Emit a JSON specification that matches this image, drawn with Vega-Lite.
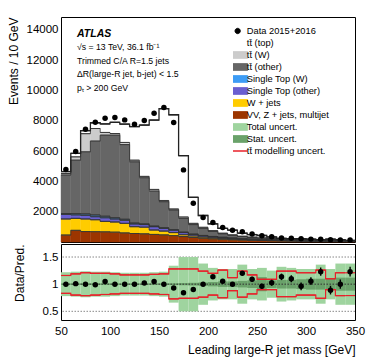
{
"$schema":"https://vega.github.io/schema/vega-lite/v6.json",
"padding":{"left":6,"top":15,"right":6,"bottom":4},
"spacing":2,
"bounds":"flush",
"config":{
 "font":"Liberation Sans",
 "view":{"stroke":"black","strokeWidth":1},
 "axis":{"labelFont":"Liberation Sans","labelFontSize":11.5,"labelColor":"black","titleFont":"Liberation Sans","titleFontSize":12,"titleFontWeight":"normal","titleColor":"black","tickColor":"black","tickWidth":0.8,"domain":false,"grid":false,"tickSize":0,"labelOverlap":false,"labelFlush":false},
 "concat":{"spacing":2}
},
"datasets":{
 "stack":[
  {"lo":50,"hi":60,"vv":460,"wj":1060,"sto":300,"stw":60,"tto":2540,"ttw":100,"ttt":130},
  {"lo":60,"hi":70,"vv":770,"wj":790,"sto":230,"stw":80,"tto":3530,"ttw":220,"ttt":230},
  {"lo":70,"hi":80,"vv":690,"wj":830,"sto":240,"stw":90,"tto":4100,"ttw":1200,"ttt":200},
  {"lo":80,"hi":90,"vv":680,"wj":790,"sto":200,"stw":110,"tto":4880,"ttw":830,"ttt":380},
  {"lo":90,"hi":100,"vv":670,"wj":690,"sto":240,"stw":100,"tto":5350,"ttw":180,"ttt":560},
  {"lo":100,"hi":110,"vv":650,"wj":670,"sto":200,"stw":80,"tto":5450,"ttw":110,"ttt":740},
  {"lo":110,"hi":120,"vv":600,"wj":630,"sto":200,"stw":70,"tto":4930,"ttw":140,"ttt":1210},
  {"lo":120,"hi":130,"vv":560,"wj":450,"sto":180,"stw":60,"tto":4040,"ttw":110,"ttt":2220},
  {"lo":130,"hi":140,"vv":540,"wj":440,"sto":170,"stw":50,"tto":3040,"ttw":90,"ttt":3390},
  {"lo":140,"hi":150,"vv":500,"wj":290,"sto":220,"stw":40,"tto":2310,"ttw":110,"ttt":4580},
  {"lo":150,"hi":160,"vv":470,"wj":250,"sto":180,"stw":40,"tto":1720,"ttw":80,"ttt":6060},
  {"lo":160,"hi":170,"vv":420,"wj":200,"sto":160,"stw":30,"tto":1300,"ttw":70,"ttt":6220},
  {"lo":170,"hi":180,"vv":360,"wj":120,"sto":140,"stw":30,"tto":910,"ttw":90,"ttt":4050},
  {"lo":180,"hi":190,"vv":300,"wj":100,"sto":100,"stw":20,"tto":630,"ttw":80,"ttt":1720},
  {"lo":190,"hi":200,"vv":250,"wj":80,"sto":80,"stw":20,"tto":470,"ttw":70,"ttt":780},
  {"lo":200,"hi":210,"vv":210,"wj":70,"sto":70,"stw":15,"tto":335,"ttw":50,"ttt":450},
  {"lo":210,"hi":220,"vv":180,"wj":60,"sto":60,"stw":10,"tto":230,"ttw":40,"ttt":320},
  {"lo":220,"hi":230,"vv":150,"wj":50,"sto":50,"stw":10,"tto":180,"ttw":30,"ttt":310},
  {"lo":230,"hi":240,"vv":130,"wj":40,"sto":40,"stw":10,"tto":140,"ttw":20,"ttt":200},
  {"lo":240,"hi":250,"vv":110,"wj":35,"sto":35,"stw":10,"tto":110,"ttw":20,"ttt":170},
  {"lo":250,"hi":260,"vv":95,"wj":30,"sto":30,"stw":5,"tto":90,"ttw":15,"ttt":165},
  {"lo":260,"hi":270,"vv":80,"wj":25,"sto":25,"stw":5,"tto":75,"ttw":15,"ttt":105},
  {"lo":270,"hi":280,"vv":70,"wj":20,"sto":20,"stw":5,"tto":55,"ttw":10,"ttt":60},
  {"lo":280,"hi":290,"vv":60,"wj":20,"sto":15,"stw":5,"tto":50,"ttw":8,"ttt":62},
  {"lo":290,"hi":300,"vv":55,"wj":15,"sto":15,"stw":5,"tto":50,"ttw":8,"ttt":67},
  {"lo":300,"hi":310,"vv":50,"wj":12,"sto":13,"stw":3,"tto":47,"ttw":7,"ttt":58},
  {"lo":310,"hi":320,"vv":45,"wj":10,"sto":10,"stw":3,"tto":37,"ttw":5,"ttt":40},
  {"lo":320,"hi":330,"vv":40,"wj":10,"sto":8,"stw":2,"tto":60,"ttw":6,"ttt":64},
  {"lo":330,"hi":340,"vv":35,"wj":10,"sto":7,"stw":2,"tto":41,"ttw":5,"ttt":50},
  {"lo":340,"hi":350,"vv":30,"wj":10,"sto":7,"stw":2,"tto":26,"ttw":5,"ttt":35}
 ],
 "data":[
  {"mass":55,"events":4780},{"mass":65,"events":5970},{"mass":75,"events":7440},{"mass":85,"events":7900},{"mass":95,"events":8170},
  {"mass":105,"events":8210},{"mass":115,"events":8060},{"mass":125,"events":7770},{"mass":135,"events":8020},{"mass":145,"events":8500},
  {"mass":155,"events":8870},{"mass":165,"events":7880},{"mass":175,"events":4760},{"mass":185,"events":2550},{"mass":195,"events":1620},
  {"mass":205,"events":1280},{"mass":215,"events":960},{"mass":225,"events":780},{"mass":235,"events":670},{"mass":245,"events":530},
  {"mass":255,"events":410},{"mass":265,"events":340},{"mass":275,"events":270},{"mass":285,"events":240},{"mass":295,"events":210},
  {"mass":305,"events":190},{"mass":315,"events":180},{"mass":325,"events":150},{"mass":335,"events":140},{"mass":345,"events":130}
 ],
 "ratio":[
  {"lo":50,"hi":60,"mass":55,"r":1.00,"err":0.012,"tlo":0.78,"thi":1.22,"slo":0.985,"shi":1.015,"mlo":0.83,"mhi":1.16},
  {"lo":60,"hi":70,"mass":65,"r":1.01,"err":0.012,"tlo":0.77,"thi":1.23,"slo":0.985,"shi":1.015,"mlo":0.80,"mhi":1.19},
  {"lo":70,"hi":80,"mass":75,"r":1.00,"err":0.012,"tlo":0.76,"thi":1.24,"slo":0.985,"shi":1.015,"mlo":0.79,"mhi":1.21},
  {"lo":80,"hi":90,"mass":85,"r":0.99,"err":0.012,"tlo":0.77,"thi":1.23,"slo":0.985,"shi":1.015,"mlo":0.80,"mhi":1.20},
  {"lo":90,"hi":100,"mass":95,"r":1.05,"err":0.012,"tlo":0.77,"thi":1.23,"slo":0.985,"shi":1.015,"mlo":0.81,"mhi":1.20},
  {"lo":100,"hi":110,"mass":105,"r":1.00,"err":0.012,"tlo":0.78,"thi":1.22,"slo":0.985,"shi":1.015,"mlo":0.82,"mhi":1.19},
  {"lo":110,"hi":120,"mass":115,"r":1.00,"err":0.012,"tlo":0.79,"thi":1.21,"slo":0.985,"shi":1.015,"mlo":0.83,"mhi":1.17},
  {"lo":120,"hi":130,"mass":125,"r":1.00,"err":0.012,"tlo":0.79,"thi":1.21,"slo":0.985,"shi":1.015,"mlo":0.83,"mhi":1.17},
  {"lo":130,"hi":140,"mass":135,"r":1.02,"err":0.012,"tlo":0.79,"thi":1.21,"slo":0.985,"shi":1.015,"mlo":0.83,"mhi":1.17},
  {"lo":140,"hi":150,"mass":145,"r":1.05,"err":0.012,"tlo":0.78,"thi":1.22,"slo":0.985,"shi":1.015,"mlo":0.82,"mhi":1.18},
  {"lo":150,"hi":160,"mass":155,"r":1.00,"err":0.012,"tlo":0.77,"thi":1.23,"slo":0.985,"shi":1.015,"mlo":0.81,"mhi":1.19},
  {"lo":160,"hi":170,"mass":165,"r":0.93,"err":0.012,"tlo":0.66,"thi":1.34,"slo":0.985,"shi":1.015,"mlo":0.73,"mhi":1.28},
  {"lo":170,"hi":180,"mass":175,"r":0.84,"err":0.015,"tlo":0.50,"thi":1.50,"slo":0.98,"shi":1.02,"mlo":0.74,"mhi":1.28},
  {"lo":180,"hi":190,"mass":185,"r":0.90,"err":0.02,"tlo":0.50,"thi":1.50,"slo":0.975,"shi":1.025,"mlo":0.74,"mhi":1.28},
  {"lo":190,"hi":200,"mass":195,"r":1.00,"err":0.025,"tlo":0.62,"thi":1.38,"slo":0.97,"shi":1.03,"mlo":0.76,"mhi":1.24},
  {"lo":200,"hi":210,"mass":205,"r":1.135,"err":0.03,"tlo":0.70,"thi":1.30,"slo":0.96,"shi":1.04,"mlo":0.80,"mhi":1.20},
  {"lo":210,"hi":220,"mass":215,"r":1.055,"err":0.033,"tlo":0.72,"thi":1.28,"slo":0.95,"shi":1.05,"mlo":0.75,"mhi":1.26},
  {"lo":220,"hi":230,"mass":225,"r":1.00,"err":0.036,"tlo":0.72,"thi":1.28,"slo":0.95,"shi":1.05,"mlo":0.88,"mhi":1.12},
  {"lo":230,"hi":240,"mass":235,"r":1.20,"err":0.04,"tlo":0.64,"thi":1.36,"slo":0.94,"shi":1.06,"mlo":0.76,"mhi":1.24},
  {"lo":240,"hi":250,"mass":245,"r":1.09,"err":0.045,"tlo":0.72,"thi":1.28,"slo":0.93,"shi":1.07,"mlo":0.82,"mhi":1.17},
  {"lo":250,"hi":260,"mass":255,"r":0.96,"err":0.05,"tlo":0.70,"thi":1.30,"slo":0.87,"shi":1.13,"mlo":0.90,"mhi":1.09},
  {"lo":260,"hi":270,"mass":265,"r":1.025,"err":0.055,"tlo":0.75,"thi":1.25,"slo":0.93,"shi":1.07,"mlo":0.90,"mhi":1.09},
  {"lo":270,"hi":280,"mass":275,"r":1.135,"err":0.06,"tlo":0.68,"thi":1.32,"slo":0.92,"shi":1.08,"mlo":0.77,"mhi":1.24},
  {"lo":280,"hi":290,"mass":285,"r":1.10,"err":0.065,"tlo":0.70,"thi":1.30,"slo":0.92,"shi":1.08,"mlo":0.77,"mhi":1.24},
  {"lo":290,"hi":300,"mass":295,"r":0.96,"err":0.07,"tlo":0.72,"thi":1.28,"slo":0.91,"shi":1.09,"mlo":0.80,"mhi":1.21},
  {"lo":300,"hi":310,"mass":305,"r":1.055,"err":0.072,"tlo":0.72,"thi":1.28,"slo":0.90,"shi":1.10,"mlo":0.80,"mhi":1.21},
  {"lo":310,"hi":320,"mass":315,"r":1.23,"err":0.075,"tlo":0.64,"thi":1.36,"slo":0.90,"shi":1.10,"mlo":0.74,"mhi":1.26},
  {"lo":320,"hi":330,"mass":325,"r":0.89,"err":0.08,"tlo":0.72,"thi":1.28,"slo":0.90,"shi":1.10,"mlo":0.90,"mhi":1.10},
  {"lo":330,"hi":340,"mass":335,"r":1.00,"err":0.085,"tlo":0.62,"thi":1.38,"slo":0.88,"shi":1.12,"mlo":0.79,"mhi":1.21},
  {"lo":340,"hi":350,"mass":345,"r":1.23,"err":0.09,"tlo":0.62,"thi":1.38,"slo":0.88,"shi":1.12,"mlo":0.79,"mhi":1.21}
 ]
},
"vconcat":[
 {
  "width":294,"height":225,
  "title":{"text":"ATLAS","subtitle":["\u221as = 13 TeV, 36.1 fb\u207b\u00b9","Trimmed C/A  R=1.5 jets","\u0394R(large-R jet, b-jet) < 1.5","p\u209c > 200 GeV"],"anchor":"start","frame":"group","orient":"top","offset":-76,"dx":16,"font":"Liberation Sans","fontSize":10.5,"fontStyle":"italic","fontWeight":"bold","color":"black","subtitleFont":"Liberation Sans","subtitleFontSize":8.7,"subtitleColor":"black","subtitleLineHeight":13.5,"subtitlePadding":4},
  "resolve":{"axis":{"x":"independent","y":"independent"}},
  "layer":[
   {
    "data":{"name":"stack"},
    "transform":[{"fold":["vv","wj","sto","stw","tto","ttw","ttt"],"as":["process","events"]},{"stack":"events","groupby":["lo"],"as":["y0","y1"]}],
    "mark":{"type":"bar","strokeWidth":0.4},
    "encoding":{
     "x":{"field":"lo","type":"quantitative","scale":{"domain":[50,350],"nice":false,"zero":false},
      "axis":{"orient":"bottom","values":[50,60,70,80,90,100,110,120,130,140,150,160,170,180,190,200,210,220,230,240,250,260,270,280,290,300,310,320,330,340,350],"labels":false,"title":null,
       "encode":{"ticks":{"update":{"y2":{"signal":"datum.value % 50 === 0 ? -8 : -4"}}}}}},
     "x2":{"field":"hi"},
     "y":{"field":"y0","type":"quantitative","scale":{"domain":[0,14850],"nice":false},
      "axis":{"orient":"left","values":[0,500,1000,1500,2000,2500,3000,3500,4000,4500,5000,5500,6000,6500,7000,7500,8000,8500,9000,9500,10000,10500,11000,11500,12000,12500,13000,13500,14000,14500],"format":"d","labelPadding":3,
       "labelExpr":"datum.value % 2000 === 0 && datum.value > 0 ? datum.label : ''",
       "title":"Events / 10 GeV","titleAnchor":"end","titleX":-48,"titleBaseline":"middle",
       "encode":{"ticks":{"update":{"x2":{"signal":"datum.value % 2000 === 0 ? 8 : 4"}}}}}},
     "y2":{"field":"y1"},
     "color":{"field":"process","type":"nominal",
      "scale":{"domain":["data","ttt","ttw","tto","stw","sto","wj","vv","tot","stat","mod"],"range":["#000000","#ffffff","#cccccc","#666666","#3d9cf5","#6a5fd0","#ffcc00","#9c3500","#9fd49f","#6aa26a","#e8202a"]},
      "legend":{"orient":"none","legendX":172,"legendY":8,"title":null,"padding":0,"symbolSize":400,"clipHeight":11.95,"rowPadding":0,
       "labelFont":"Liberation Sans","labelFontSize":9.3,"labelColor":"black","labelOffset":4.5,"labelLimit":200,
       "labelExpr":"['Data 2015+2016','tt\u0304 (top)','tt\u0304 (W)','tt\u0304 (other)','Single Top (W)','Single Top (other)','W + jets','VV, Z + jets, multijet','Total uncert.','Stat. uncert.','tt\u0304 modelling uncert.'][indexof(['data','ttt','ttw','tto','stw','sto','wj','vv','tot','stat','mod'], datum.value)]",
       "encode":{"symbols":{"update":{
        "shape":{"signal":"datum.value === 'data' ? 'M0.27,0A0.27,0.27,0,1,1,-0.27,0A0.27,0.27,0,1,1,0.27,0Z' : datum.value === 'mod' ? 'M-1,0H1' : 'M-1,-0.34H1V0.34H-1Z'"},
        "stroke":{"signal":"datum.value === 'mod' ? '#e8202a' : (datum.value === 'data' || datum.value === 'tot' || datum.value === 'stat') ? 'transparent' : '#333333'"},
        "strokeWidth":{"signal":"datum.value === 'mod' ? 1.5 : 0.8"},
        "opacity":{"value":1}}}}}},
     "stroke":{"field":"process","type":"nominal",
      "scale":{"domain":["data","ttt","ttw","tto","stw","sto","wj","vv","tot","stat","mod"],"range":["#000000","#ffffff","#cccccc","#666666","#3d9cf5","#6a5fd0","#ffcc00","#9c3500","#9fd49f","#6aa26a","#e8202a"]},"legend":null}
    }
   },
   {
    "data":{"name":"stack"},
    "transform":[{"fold":["vv","wj","sto","stw","tto","ttw","ttt"],"as":["process","events"]},{"stack":"events","groupby":["lo"],"as":["y0","y1"]},{"filter":"datum.process !== 'ttt'"}],
    "mark":{"type":"rule","color":"#333333","strokeWidth":0.8},
    "encoding":{
     "x":{"field":"lo","type":"quantitative","scale":{"domain":[50,350],"nice":false,"zero":false},"axis":null},
     "x2":{"field":"hi"},
     "y":{"field":"y1","type":"quantitative","scale":{"domain":[0,14850],"nice":false},"axis":null}
    }
   },
   {
    "data":{"name":"stack"},
    "transform":[{"fold":["vv","wj","sto","stw","tto","ttw","ttt"],"as":["process","events"]},{"stack":"events","groupby":["lo"],"as":["y0","y1"]},{"filter":"datum.process !== 'ttt'"}],
    "mark":{"type":"line","color":"#333333","strokeWidth":0.8,"interpolate":"step-after"},
    "encoding":{
     "x":{"field":"lo","type":"quantitative","scale":{"domain":[50,350],"nice":false,"zero":false},"axis":null},
     "y":{"field":"y1","type":"quantitative","scale":{"domain":[0,14850],"nice":false},"axis":null},
     "detail":{"field":"process","type":"nominal"}
    }
   },
   {
    "data":{"name":"stack"},
    "transform":[{"fold":["vv","wj","sto","stw","tto","ttw","ttt"],"as":["process","events"]},{"stack":"events","groupby":["lo"],"as":["y0","y1"]},{"filter":"datum.process === 'ttt'"}],
    "mark":{"type":"rule","color":"#222222","strokeWidth":1.3},
    "encoding":{
     "x":{"field":"lo","type":"quantitative","scale":{"domain":[50,350],"nice":false,"zero":false},"axis":null},
     "x2":{"field":"hi"},
     "y":{"field":"y1","type":"quantitative","scale":{"domain":[0,14850],"nice":false},"axis":null}
    }
   },
   {
    "data":{"name":"stack"},
    "transform":[{"fold":["vv","wj","sto","stw","tto","ttw","ttt"],"as":["process","events"]},{"stack":"events","groupby":["lo"],"as":["y0","y1"]},{"filter":"datum.process === 'ttt'"}],
    "mark":{"type":"line","color":"#222222","strokeWidth":1.3,"interpolate":"step-after"},
    "encoding":{
     "x":{"field":"lo","type":"quantitative","scale":{"domain":[50,350],"nice":false,"zero":false},"axis":null},
     "y":{"field":"y1","type":"quantitative","scale":{"domain":[0,14850],"nice":false},"axis":null}
    }
   },
   {
    "data":{"name":"data"},
    "mark":{"type":"circle","color":"black","size":30,"opacity":1},
    "encoding":{
     "x":{"field":"mass","type":"quantitative","scale":{"domain":[50,350],"nice":false,"zero":false},
      "axis":{"orient":"top","values":[50,60,70,80,90,100,110,120,130,140,150,160,170,180,190,200,210,220,230,240,250,260,270,280,290,300,310,320,330,340,350],"labels":false,"title":null,
       "encode":{"ticks":{"update":{"y2":{"signal":"datum.value % 50 === 0 ? 8 : 4"}}}}}},
     "y":{"field":"events","type":"quantitative","scale":{"domain":[0,14850],"nice":false},
      "axis":{"orient":"right","values":[0,500,1000,1500,2000,2500,3000,3500,4000,4500,5000,5500,6000,6500,7000,7500,8000,8500,9000,9500,10000,10500,11000,11500,12000,12500,13000,13500,14000,14500],"labels":false,"title":null,
       "encode":{"ticks":{"update":{"x2":{"signal":"datum.value % 2000 === 0 ? -8 : -4"}}}}}}
    }
   }
  ]
 },
 {
  "width":294,"height":76,
  "resolve":{"axis":{"x":"independent","y":"independent"}},
  "layer":[
   {
    "data":{"values":[{"ref":0.5},{"ref":1.5}]},
    "mark":{"type":"rule","color":"#888888","strokeDash":[1.5,1.5],"strokeWidth":1},
    "encoding":{"y":{"field":"ref","type":"quantitative","scale":{"domain":[0.34,1.74],"nice":false,"zero":false},"axis":null}}
   },
   {
    "data":{"name":"ratio"},
    "mark":{"type":"bar","color":"#9fd49f","opacity":1},
    "encoding":{
     "x":{"field":"lo","type":"quantitative","scale":{"domain":[50,350],"nice":false,"zero":false},
      "axis":{"orient":"bottom","values":[50,60,70,80,90,100,110,120,130,140,150,160,170,180,190,200,210,220,230,240,250,260,270,280,290,300,310,320,330,340,350],"labelPadding":5,
       "labelExpr":"datum.value % 50 === 0 ? datum.label : ''",
       "title":"Leading large-R jet mass [GeV]","titleAnchor":"end","titleY":29,"titleBaseline":"middle",
       "encode":{"ticks":{"update":{"y2":{"signal":"datum.value % 50 === 0 ? -8 : -4"}}}}}},
     "x2":{"field":"hi"},
     "y":{"field":"tlo","type":"quantitative","scale":{"domain":[0.34,1.74],"nice":false,"zero":false},
      "axis":{"orient":"left","values":[0.4,0.5,0.6,0.7,0.8,0.9,1,1.1,1.2,1.3,1.4,1.5,1.6,1.7],"labelPadding":3,
       "labelExpr":"datum.value === 0.5 ? '0.5' : datum.value === 1 ? '1' : datum.value === 1.5 ? '1.5' : ''",
       "title":"Data/Pred.","titleAnchor":"end","titleX":-42,"titleBaseline":"middle",
       "encode":{"ticks":{"update":{"x2":{"signal":"(datum.value === 0.5 || datum.value === 1 || datum.value === 1.5) ? 8 : 4"}}}}}},
     "y2":{"field":"thi"}
    }
   },
   {
    "data":{"name":"ratio"},
    "mark":{"type":"bar","color":"#6aa26a","opacity":1},
    "encoding":{
     "x":{"field":"lo","type":"quantitative","scale":{"domain":[50,350],"nice":false,"zero":false},"axis":null},
     "x2":{"field":"hi"},
     "y":{"field":"slo","type":"quantitative","scale":{"domain":[0.34,1.74],"nice":false,"zero":false},"axis":null},
     "y2":{"field":"shi"}
    }
   },
   {
    "data":{"values":[{"ref":1}]},
    "mark":{"type":"rule","color":"#333333","strokeDash":[1.5,1.5],"strokeWidth":1},
    "encoding":{"y":{"field":"ref","type":"quantitative","scale":{"domain":[0.34,1.74],"nice":false,"zero":false},"axis":null}}
   },
   {
    "data":{"name":"ratio"},
    "mark":{"type":"rule","color":"#e8202a","strokeWidth":1.2},
    "encoding":{
     "x":{"field":"lo","type":"quantitative","scale":{"domain":[50,350],"nice":false,"zero":false},"axis":null},
     "x2":{"field":"hi"},
     "y":{"field":"mhi","type":"quantitative","scale":{"domain":[0.34,1.74],"nice":false,"zero":false},"axis":null}
    }
   },
   {
    "data":{"name":"ratio"},
    "mark":{"type":"rule","color":"#e8202a","strokeWidth":1.2},
    "encoding":{
     "x":{"field":"lo","type":"quantitative","scale":{"domain":[50,350],"nice":false,"zero":false},"axis":null},
     "x2":{"field":"hi"},
     "y":{"field":"mlo","type":"quantitative","scale":{"domain":[0.34,1.74],"nice":false,"zero":false},"axis":null}
    }
   },
   {
    "data":{"name":"ratio"},
    "mark":{"type":"line","color":"#e8202a","strokeWidth":1.2,"interpolate":"step-after"},
    "encoding":{
     "x":{"field":"lo","type":"quantitative","scale":{"domain":[50,350],"nice":false,"zero":false},"axis":null},
     "y":{"field":"mhi","type":"quantitative","scale":{"domain":[0.34,1.74],"nice":false,"zero":false},"axis":null}
    }
   },
   {
    "data":{"name":"ratio"},
    "mark":{"type":"line","color":"#e8202a","strokeWidth":1.2,"interpolate":"step-after"},
    "encoding":{
     "x":{"field":"lo","type":"quantitative","scale":{"domain":[50,350],"nice":false,"zero":false},"axis":null},
     "y":{"field":"mlo","type":"quantitative","scale":{"domain":[0.34,1.74],"nice":false,"zero":false},"axis":null}
    }
   },
   {
    "data":{"name":"ratio"},
    "mark":{"type":"errorbar","color":"black","thickness":1.4},
    "encoding":{
     "x":{"field":"mass","type":"quantitative","scale":{"domain":[50,350],"nice":false,"zero":false},"axis":null},
     "y":{"field":"r","type":"quantitative","scale":{"domain":[0.34,1.74],"nice":false,"zero":false},"axis":null},
     "yError":{"field":"err"}
    }
   },
   {
    "data":{"name":"ratio"},
    "mark":{"type":"circle","color":"black","size":30,"opacity":1},
    "encoding":{
     "x":{"field":"mass","type":"quantitative","scale":{"domain":[50,350],"nice":false,"zero":false},
      "axis":{"orient":"top","values":[50,60,70,80,90,100,110,120,130,140,150,160,170,180,190,200,210,220,230,240,250,260,270,280,290,300,310,320,330,340,350],"labels":false,"title":null,
       "encode":{"ticks":{"update":{"y2":{"signal":"datum.value % 50 === 0 ? 8 : 4"}}}}}},
     "y":{"field":"r","type":"quantitative","scale":{"domain":[0.34,1.74],"nice":false,"zero":false},
      "axis":{"orient":"right","values":[0.4,0.5,0.6,0.7,0.8,0.9,1,1.1,1.2,1.3,1.4,1.5,1.6,1.7],"labels":false,"title":null,
       "encode":{"ticks":{"update":{"x2":{"signal":"(datum.value === 0.5 || datum.value === 1 || datum.value === 1.5) ? -8 : -4"}}}}}}
    }
   }
  ]
 }
]
}
